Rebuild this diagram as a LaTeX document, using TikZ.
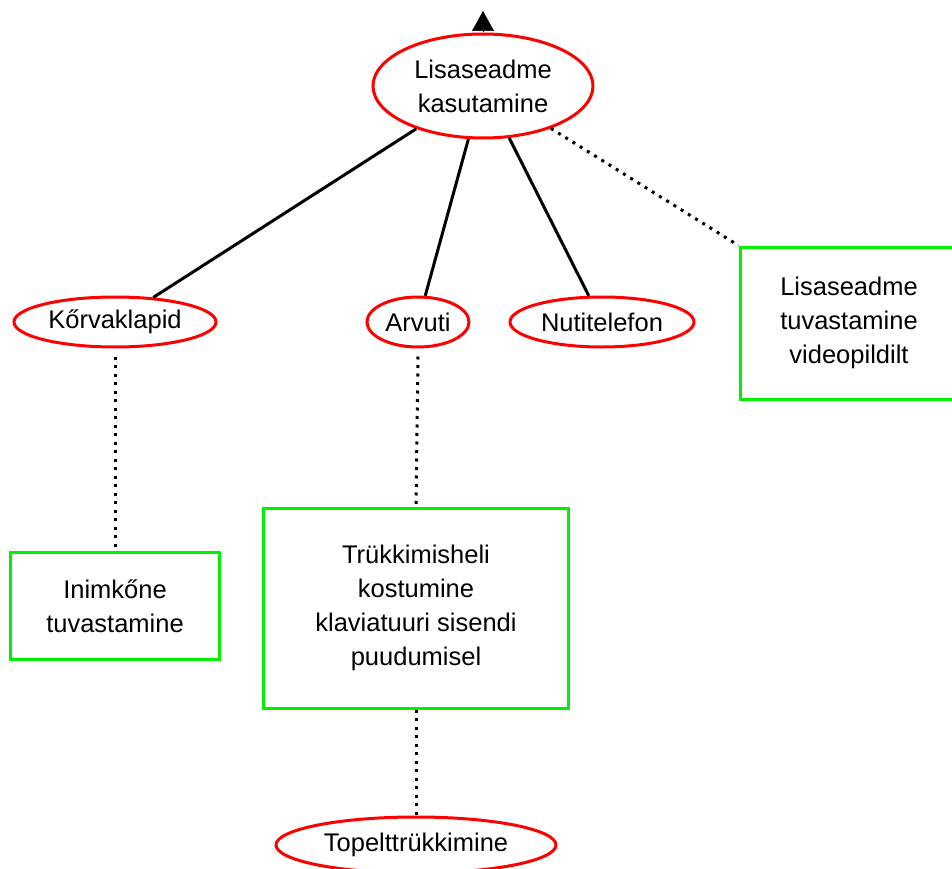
\documentclass[tikz,border=0pt]{standalone}
\usepackage{fontspec}
\setmainfont{Liberation Sans}
\usetikzlibrary{shapes.geometric,arrows.meta}
\definecolor{goalred}{RGB}{255,0,0}
\definecolor{taskgreen}{RGB}{0,240,0}
\tikzset{
  goal/.style={ellipse, draw=goalred, line width=3pt, inner sep=0pt, align=center, fill=white},
  task/.style={rectangle, draw=taskgreen, line width=3pt, inner sep=0pt, align=center, fill=white},
  link/.style={draw=black, line width=3pt},
  weaklink/.style={draw=black, line width=3pt, dash pattern=on 3pt off 5.5pt},
  every node/.style={font=\fontsize{25.5}{34}\selectfont}
}
\begin{document}
\begin{tikzpicture}[x=1pt, y=-1pt]
  \useasboundingbox (0,0) rectangle (952,869);
  \clip (0,0) rectangle (952,869);

  \coordinate (tip) at (483,11);

  % goals
  \node[goal, minimum width=220pt, minimum height=104pt] (top) at (483,86) {Lisaseadme\\kasutamine};
  \node[goal, minimum width=202pt, minimum height=50pt] (korv) at (115,322) {Kőrvaklapid};
  \node[goal, minimum width=102pt, minimum height=50pt] (arvuti) at (418,322) {Arvuti};
  \node[goal, minimum width=184pt, minimum height=50pt] (nuti) at (602,322) {Nutitelefon};
  \node[goal, minimum width=280pt, minimum height=56pt] (topelt) at (416,845) {Topelttrükkimine};

  % tasks
  \node[task, minimum width=218pt, minimum height=152pt] (video) at (849,323) {Lisaseadme\\tuvastamine\\videopildilt};
  \node[task, minimum width=209pt, minimum height=107pt] (inimkone) at (115,606) {Inimkőne\\tuvastamine};
  \node[task, minimum width=305pt, minimum height=200pt] (trukk) at (416,608) {Trükkimisheli\\kostumine\\klaviatuuri sisendi\\puudumisel};

  % links
  \draw[-{Triangle[width=22pt,length=20pt]}, line width=0.5pt] (top.north) -- (tip);
  \draw[link] (top) -- (korv);
  \draw[link] (top) -- (arvuti);
  \draw[link] (top) -- (nuti);
  \draw[weaklink] (top) -- (video.north west);
  \draw[weaklink] ([yshift=-8pt]korv.south) -- (inimkone.north);
  \draw[weaklink] ([yshift=-8pt]arvuti.south) -- (trukk.north);
  \draw[weaklink] (trukk.south) -- (topelt.north);
\end{tikzpicture}
\end{document}
